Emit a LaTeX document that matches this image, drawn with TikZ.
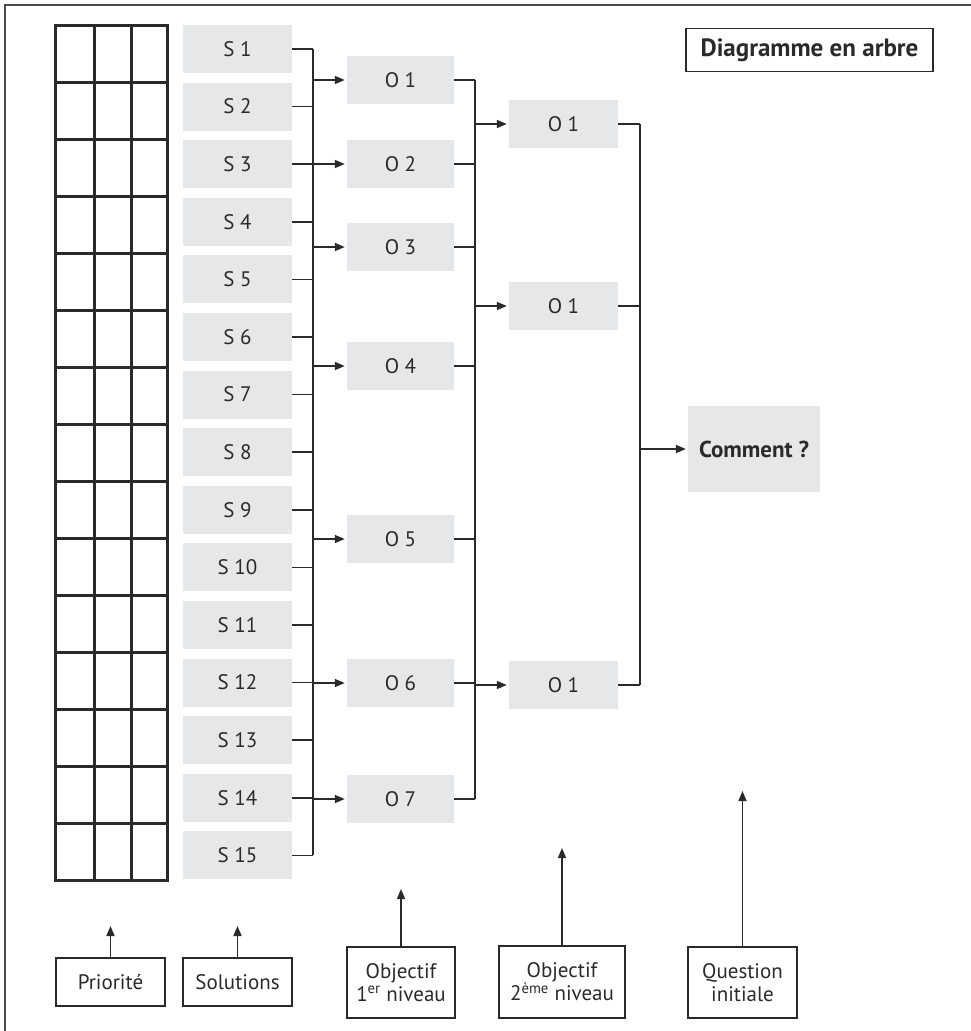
\documentclass[tikz,border=0pt]{standalone}
\usepackage{fontspec}
\setmainfont{PT Sans}
\usetikzlibrary{arrows.meta}

\definecolor{boxgray}{HTML}{E6E7E8}
\definecolor{inkline}{HTML}{2A2A2A}
\definecolor{framegray}{HTML}{4A4A4A}

\tikzset{
  sbox/.style={fill=boxgray, minimum width=109pt, minimum height=48pt, inner sep=0pt,
    text=inkline, font={\fontsize{21}{21}\selectfont}},
  obox/.style={sbox, minimum width=107pt},
  qbox/.style={sbox, minimum width=132pt, minimum height=86pt,
    font={\fontsize{23}{23}\selectfont\bfseries}},
  legend/.style={draw=inkline, line width=1.3pt, inner sep=0pt, align=center,
    text=inkline, font={\fontsize{21}{23}\selectfont}},
  link/.style={draw=inkline, line width=1.6pt},
  arr/.style={link, -{Triangle[length=10pt,width=8pt]}, shorten >=2pt},
  gridline/.style={draw=inkline, line width=3pt, line cap=rect}
}

\begin{document}
\begin{tikzpicture}[x=1pt,y=-1pt]
\useasboundingbox (0,0) rectangle (971,1031);

% frame
\draw[framegray, line width=1.8pt] (5,1031) -- (5,5) -- (971,5);

% priority grid
\foreach \c in {55,94,131,167}
  \draw[gridline] (\c,25) -- (\c,880);
\foreach \r in {0,...,15}
  \draw[gridline] (55,{25+57*\r}) -- (167,{25+57*\r});

% solutions
\foreach \i in {1,...,15}
  \node[sbox] (s\i) at (237.5,{49+57.6*(\i-1)}) {S \i};

% objectives, first level
\foreach \j/\y in {1/80,2/164,3/247,4/366,5/539,6/683,7/799}
  \node[obox] (o\j) at (400.5,\y) {O \j};

% objectives, second level
\foreach \k/\y in {1/124,2/306,3/685}
  \node[sbox] (p\k) at (563.5,\y) {O 1};

\node[qbox] (q) at (754,449) {Comment ?};

\node[draw=inkline, line width=1.3pt, minimum width=247pt, minimum height=43pt, inner sep=0pt,
  text=inkline, font={\fontsize{25}{25}\selectfont\bfseries}] (title) at (809.5,50) {Diagramme en arbre};

\coordinate (busS) at (313,0);
\coordinate (busO) at (475,0);
\coordinate (busP) at (640,0);

\foreach \i in {1,...,15}
  \draw[link] (s\i.east) -- (s\i.east -| busS);
\draw[link] (s1.east -| busS) -- (s15.east -| busS);
\foreach \j in {1,...,7}
  \draw[arr] (o\j.west -| busS) -- (o\j.west);

\foreach \j in {1,...,7}
  \draw[link] (o\j.east) -- (o\j.east -| busO);
\draw[link] (o1.east -| busO) -- (o7.east -| busO);
\foreach \k in {1,2,3}
  \draw[arr] (p\k.west -| busO) -- (p\k.west);

\foreach \k in {1,2,3}
  \draw[link] (p\k.east) -- (p\k.east -| busP);
\draw[link] (p1.east -| busP) -- (p3.east -| busP);
\draw[arr] (q.west -| busP) -- (q.west);

% legend
\node[legend, minimum width=109pt, minimum height=48pt] (legP) at (110.5,982) {Priorité};
\node[legend, minimum width=109pt, minimum height=48pt] (legS) at (237.5,982) {Solutions};
\node[legend, minimum width=108pt, minimum height=71pt] (legO1) at (401,982.5) {Objectif\\1\textsuperscript{er} niveau};
\node[legend, minimum width=126pt, minimum height=72pt] (legO2) at (562,982) {Objectif\\2\textsuperscript{ème} niveau};
\node[legend, minimum width=109pt, minimum height=71pt] (legQ) at (742.5,982.5) {Question\\initiale};

\coordinate (tipP) at (110.5,926);
\coordinate (tipS) at (237.5,926);
\coordinate (tipO1) at (401,889);
\coordinate (tipO2) at (562,848);
\coordinate (tipQ) at (742.5,791);

\draw[arr, shorten >=0pt] (legP.north) -- (tipP);
\draw[arr, shorten >=0pt] (legS.north) -- (tipS);
\draw[arr, shorten >=0pt] (legO1.north) -- (tipO1);
\draw[arr, shorten >=0pt] (legO2.north) -- (tipO2);
\draw[arr, shorten >=0pt] (legQ.north) -- (tipQ);

\end{tikzpicture}
\end{document}
